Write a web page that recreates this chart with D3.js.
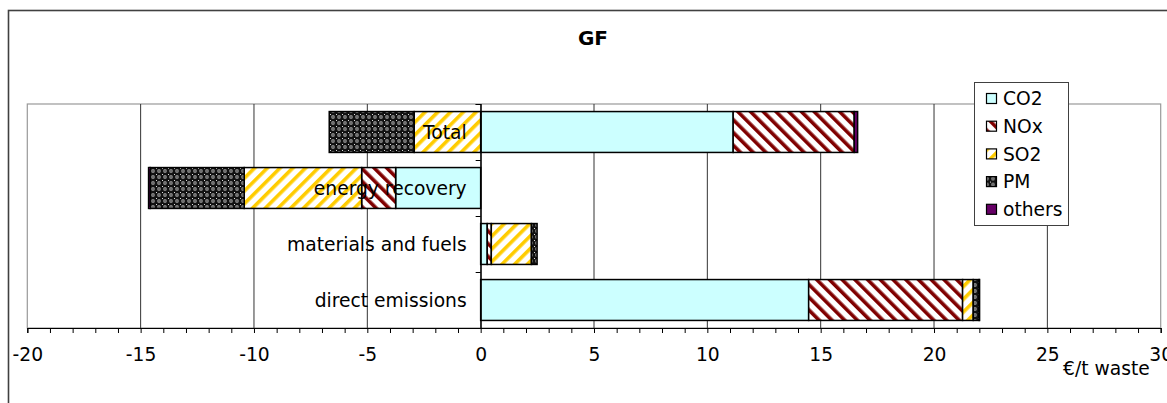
<!DOCTYPE html>
<html>
<head>
<meta charset="utf-8">
<script src="https://cdn.jsdelivr.net/npm/d3@7"></script>
<style>
  html, body { margin: 0; padding: 0; background: #fff; }
  svg { display: block; font-family: "DejaVu Sans", Verdana, sans-serif; }
</style>
</head>
<body>
<svg id="chart" width="1167" height="403"></svg>
<script>
// Categories, top to bottom
const categories = ["Total", "energy recovery", "materials and fuels", "direct emissions"];
// Series values in €/t waste, one per category
const co2    = [11.14, -3.75, 0.29, 14.47];
const nox    = [5.34, -1.50, 0.18, 6.79];
const so2    = [-2.93, -5.18, 1.77, 0.47];
const pm     = [-3.75, -4.15, 0.25, 0.26];
const others = [0.15, -0.07, 0.00, 0.02];
const seriesNames = ["CO2", "NOx", "SO2", "PM", "others"];
const xTicks = [-20, -15, -10, -5, 0, 5, 10, 15, 20, 25, 30];
const titleText = "GF";
const unitLabel = "€/t waste";

const values = [co2, nox, so2, pm, others];
const rows = categories.map((c, i) => {
  const r = { category: c };
  seriesNames.forEach((s, k) => r[s] = values[k][i]);
  return r;
});

const svg = d3.select("#chart");
const FS = 18.7;

// ----- fill patterns -----
const defs = svg.append("defs");
function stripes(id, color, angle) {
  const p = defs.append("pattern").attr("id", id)
    .attr("patternUnits", "userSpaceOnUse")
    .attr("width", 9).attr("height", 9)
    .attr("patternTransform", `rotate(${angle})`);
  p.append("rect").attr("width", 9).attr("height", 9).attr("fill", "#fff");
  p.append("rect").attr("x", 0).attr("width", 3.6).attr("height", 9).attr("fill", color);
}
stripes("pat-nox", "#800000", -45);
stripes("pat-so2", "#FFCC00", 45);
const pmPat = defs.append("pattern").attr("id", "pat-pm")
  .attr("patternUnits", "userSpaceOnUse").attr("width", 6).attr("height", 6);
pmPat.append("rect").attr("width", 6).attr("height", 6).attr("fill", "#111");
pmPat.append("circle").attr("cx", 3).attr("cy", 3).attr("r", 1.9).attr("fill", "#8a8a8a");
pmPat.append("rect").attr("x", 2.5).attr("y", 2.5).attr("width", 1).attr("height", 1).attr("fill", "#222");
pmPat.append("rect").attr("x", 0).attr("y", 0).attr("width", 1).attr("height", 1).attr("fill", "#ddd");

const fills = {
  CO2: "#CCFFFF",
  NOx: "url(#pat-nox)",
  SO2: "url(#pat-so2)",
  PM: "url(#pat-pm)",
  others: "#660066"
};

// ----- chart frame -----
svg.append("rect").attr("x", 0).attr("y", 0).attr("width", 1167).attr("height", 403).attr("fill", "#fff");
svg.append("rect").attr("x", 8.5).attr("y", 10.5).attr("width", 1180).attr("height", 420)
  .attr("fill", "none").attr("stroke", "#404040").attr("stroke-width", 1.6);

svg.append("text").attr("x", 593).attr("y", 45)
  .attr("text-anchor", "middle").attr("font-weight", "bold").attr("font-size", 20)
  .text(titleText);

// ----- scales -----
const plot = { left: 27.3, right: 1160.7, top: 104, bottom: 328 };
const x = d3.scaleLinear().domain([-20, 30]).range([plot.left, plot.right]);
const y = d3.scaleBand().domain(categories).range([plot.top, plot.bottom])
  .paddingInner(0.27).paddingOuter(0.135);

// plot area border
svg.append("rect").attr("x", plot.left).attr("y", plot.top)
  .attr("width", plot.right - plot.left).attr("height", plot.bottom - plot.top)
  .attr("fill", "#fff").attr("stroke", "#999").attr("stroke-width", 1.2);

// vertical gridlines
svg.append("g").selectAll("line")
  .data(xTicks.filter(t => t > -20 && t < 30))
  .join("line")
  .attr("x1", d => x(d)).attr("x2", d => x(d))
  .attr("y1", plot.top).attr("y2", plot.bottom)
  .attr("stroke", "#333").attr("stroke-width", 1);

// ----- bars -----
const stack = d3.stack().keys(seriesNames).offset(d3.stackOffsetDiverging);
const layers = stack(rows);
svg.append("g").selectAll("g")
  .data(layers)
  .join("g")
  .attr("fill", d => fills[d.key])
  .selectAll("rect")
  .data(d => d.filter(s => s[1] - s[0] !== 0))
  .join("rect")
  .attr("x", d => x(Math.min(d[0], d[1])))
  .attr("width", d => Math.abs(x(d[1]) - x(d[0])))
  .attr("y", d => y(d.data.category))
  .attr("height", y.bandwidth())
  .attr("stroke", "#000").attr("stroke-width", 1.5);

// ----- x axis -----
const xAxis = d3.axisBottom(x)
  .tickValues(d3.range(-20, 31, 1))
  .tickSize(5)
  .tickFormat(d => xTicks.includes(d) ? d3.format("d")(d) : "");
const gx = svg.append("g").attr("transform", `translate(0,${plot.bottom})`).call(xAxis);
gx.select(".domain").attr("stroke", "#000").attr("stroke-width", 1.2);
gx.selectAll(".tick line").attr("stroke", "#000");
gx.selectAll(".tick text")
  .attr("font-family", "DejaVu Sans, Verdana, sans-serif")
  .attr("font-size", FS).attr("fill", "#000")
  .attr("y", 20).attr("dy", "0.71em")
  .text(d => xTicks.includes(d) ? String(d).replace("-", "-") : "");

svg.append("text").attr("x", 1063).attr("y", 375)
  .attr("font-size", FS).text(unitLabel);

// ----- category axis at zero -----
const yAxis = d3.axisLeft(d3.scaleLinear().domain([0, 4]).range([plot.top, plot.bottom]))
  .tickValues([0, 1, 2, 3, 4]).tickSize(5).tickFormat("");
const gy = svg.append("g").attr("transform", `translate(${x(0)},0)`).call(yAxis);
gy.select(".domain").attr("stroke", "#000").attr("stroke-width", 1.2);
gy.selectAll(".tick line").attr("stroke", "#000");

svg.append("g").selectAll("text")
  .data(categories)
  .join("text")
  .attr("x", x(0) - 14)
  .attr("y", d => y(d) + y.bandwidth() / 2 + 7)
  .attr("text-anchor", "end")
  .attr("font-size", FS)
  .text(d => d);

// ----- legend -----
const legend = svg.append("g");
legend.append("rect").attr("x", 974.5).attr("y", 82.5).attr("width", 94).attr("height", 143)
  .attr("fill", "#fff").attr("stroke", "#404040").attr("stroke-width", 1);
const li = legend.selectAll("g.item").data(seriesNames).join("g").attr("class", "item")
  .attr("transform", (d, i) => `translate(0,${98.5 + i * 27.7})`);
li.append("rect").attr("x", 986.5).attr("y", -5).attr("width", 10).attr("height", 10)
  .attr("fill", d => fills[d]).attr("stroke", "#000").attr("stroke-width", 1.2);
li.append("text").attr("x", 1003).attr("y", 6.8).attr("font-size", FS).text(d => d);
</script>
</body>
</html>
